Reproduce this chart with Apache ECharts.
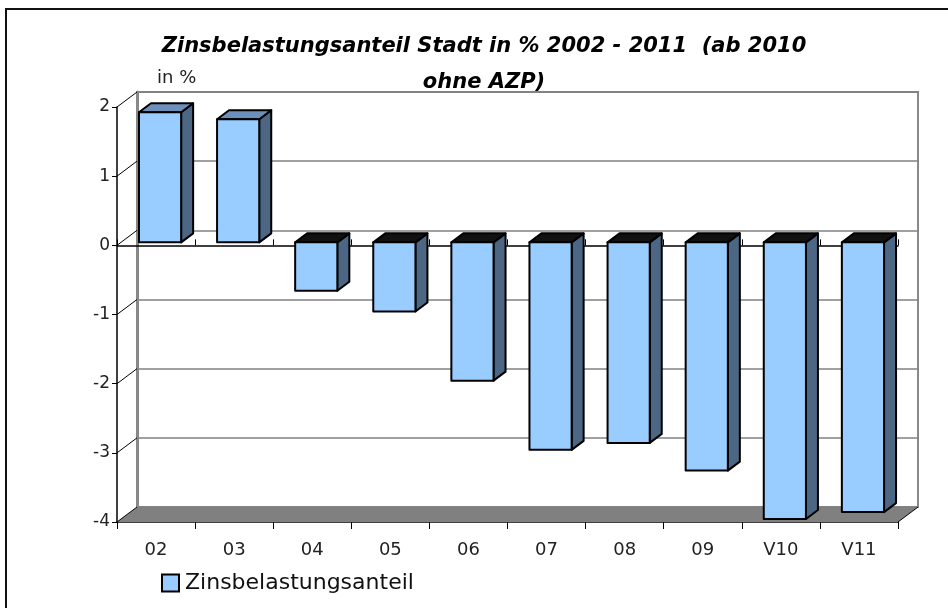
<!DOCTYPE html>
<html>
<head>
<meta charset="utf-8">
<script src="https://cdn.jsdelivr.net/npm/echarts@6/dist/echarts.min.js"></script>
<style>
  html, body { margin: 0; padding: 0; background: #fff; }
  #chart { width: 948px; height: 608px; }
</style>
</head>
<body>
<div id="chart"></div>
<script>
const categories = ['02', '03', '04', '05', '06', '07', '08', '09', 'V10', 'V11']
const values = [1.88, 1.78, -0.7, -1.0, -2.0, -3.0, -2.9, -3.3, -4.0, -3.9]
const seriesName = 'Zinsbelastungsanteil'
const yMin = -4
const yMax = 2

// depth of the 3d box (pixels)
const DX = 20
const DY = -15

const chart = echarts.init(document.getElementById('chart'))

function renderFloor(params, api) {
  const cs = params.coordSys
  const bx = cs.x + cs.width
  const by = cs.y + cs.height
  const children = [{
    type: 'polygon',
    shape: { points: [[cs.x, by], [bx, by], [bx + DX, by + DY], [cs.x + DX, by + DY]] },
    style: { fill: '#808080', stroke: null },
  }]
  for (let v = yMin; v <= yMax; v++) {
    const p = api.coord([0, v])
    children.push({
      type: 'line',
      shape: { x1: cs.x, y1: p[1], x2: cs.x + DX, y2: p[1] + DY },
      style: { stroke: '#000', lineWidth: 1 },
    })
  }
  children.push({
    type: 'line',
    shape: { x1: bx, y1: by, x2: bx + DX, y2: by + DY },
    style: { stroke: '#000', lineWidth: 1 },
  })
  return { type: 'group', children }
}

function renderBar(params, api) {
  const i = api.value(0)
  const v = api.value(1)
  const band = api.size([1, 0])[0]
  const c0 = api.coord([i, 0])
  const c1 = api.coord([i, v])
  const sx = DX * 0.2
  const sy = DY * 0.2
  const bw = band * 0.54
  const dx = DX * 0.6
  const dy = DY * 0.6
  const x0 = c0[0] - bw / 2 + sx
  const x1 = x0 + bw
  const yTop = Math.min(c0[1], c1[1]) + sy
  const yBot = Math.max(c0[1], c1[1]) + sy
  const stroke = { stroke: '#000', lineWidth: 2, lineJoin: 'round' }
  return {
    type: 'group',
    children: [
      {
        type: 'polygon',
        shape: { points: [[x1, yTop], [x1 + dx, yTop + dy], [x1 + dx, yBot + dy], [x1, yBot]] },
        style: Object.assign({ fill: '#4d6684' }, stroke),
      },
      {
        type: 'polygon',
        shape: { points: [[x0, yTop], [x1, yTop], [x1 + dx, yTop + dy], [x0 + dx, yTop + dy]] },
        style: Object.assign({ fill: v >= 0 ? '#6d90ba' : '#111' }, stroke),
      },
      {
        type: 'rect',
        shape: { x: x0, y: yTop, width: bw, height: yBot - yTop },
        style: Object.assign({ fill: '#99ccff' }, stroke),
      },
    ],
  }
}

const option = {
  animation: false,
  backgroundColor: '#fff',
  textStyle: { fontFamily: 'DejaVu Sans' },
  title: {
    text: 'Zinsbelastungsanteil Stadt in % 2002 - 2011  (ab 2010\nohne AZP)',
    left: 479,
    top: 24,
    textAlign: 'center',
    textStyle: {
      fontFamily: 'DejaVu Sans',
      fontSize: 21,
      fontWeight: 'bold',
      fontStyle: 'italic',
      color: '#000',
      lineHeight: 36,
    },
  },
  legend: {
    left: 161,
    top: 572,
    padding: 0,
    itemWidth: 17,
    itemHeight: 17,
    itemGap: 6,
    data: [{ name: seriesName, icon: 'rect' }],
    itemStyle: { borderColor: '#000', borderWidth: 2 },
    textStyle: { fontFamily: 'DejaVu Sans', fontSize: 22, color: '#111', padding: [0, 0, 0, 1] },
  },
  graphic: [
    {
      type: 'text',
      left: 157,
      top: 69,
      style: { text: 'in %', fontFamily: 'DejaVu Sans', fontSize: 18, fill: '#222' },
    },
    {
      type: 'polyline',
      shape: { points: [[949, 9], [6, 9], [6, 609]] },
      style: { stroke: '#111', lineWidth: 2, fill: null },
      z: 10,
    },
  ],
  grid: [
    { left: 117, right: 50, top: 107, bottom: 86 },
    { left: 137, right: 30, top: 92, bottom: 101, show: true, borderColor: '#888', borderWidth: 2 },
  ],
  xAxis: [
    {
      type: 'category',
      gridIndex: 0,
      data: categories,
      boundaryGap: true,
      axisLine: { onZero: false, lineStyle: { color: '#000', width: 1.5 } },
      axisTick: { show: true, length: 7, lineStyle: { color: '#000' } },
      axisLabel: { color: '#222', fontSize: 18, margin: 19, fontFamily: 'DejaVu Sans' },
      splitLine: { show: false },
    },
    {
      type: 'category',
      gridIndex: 0,
      data: categories,
      boundaryGap: true,
      axisLine: { onZero: true, lineStyle: { color: '#000', width: 1.5 } },
      axisTick: { show: true, length: 6, lineStyle: { color: '#000' } },
      axisLabel: { show: false },
      splitLine: { show: false },
    },
    {
      type: 'category',
      gridIndex: 1,
      data: categories,
      show: false,
    },
  ],
  yAxis: [
    {
      type: 'value',
      gridIndex: 0,
      min: yMin,
      max: yMax,
      interval: 1,
      axisLine: { show: true, lineStyle: { color: '#000', width: 1.5 } },
      axisTick: { show: true, length: 5, lineStyle: { color: '#000' } },
      axisLabel: { color: '#222', fontSize: 17, margin: 7, fontFamily: 'DejaVu Sans' },
      splitLine: { show: false },
    },
    {
      type: 'value',
      gridIndex: 1,
      min: yMin,
      max: yMax,
      interval: 1,
      axisLine: { show: true, lineStyle: { color: '#888', width: 3 } },
      axisTick: { show: false },
      axisLabel: { show: false },
      splitLine: { show: true, lineStyle: { color: '#808080', width: 1.5 } },
    },
  ],
  series: [
    {
      type: 'custom',
      name: 'floor',
      xAxisIndex: 0,
      yAxisIndex: 0,
      renderItem: renderFloor,
      data: [[0, 0]],
      z: 1,
      silent: true,
    },
    {
      type: 'custom',
      name: seriesName,
      xAxisIndex: 0,
      yAxisIndex: 0,
      itemStyle: { color: '#99ccff' },
      renderItem: renderBar,
      encode: { x: 0, y: 1 },
      data: values.map((v, i) => [i, v]),
      z: 3,
    },
  ],
}

chart.setOption(option)
</script>
</body>
</html>
